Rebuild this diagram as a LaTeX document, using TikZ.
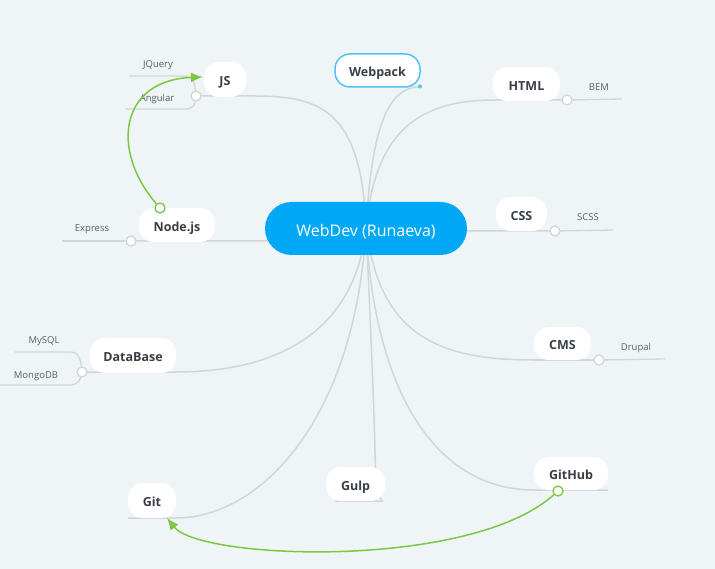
\documentclass[tikz,border=0pt]{standalone}
\usepackage{fontspec}
\setmainfont{Open Sans}
\usetikzlibrary{arrows.meta,backgrounds}
\definecolor{bg}{HTML}{EFF4F7}
\definecolor{branchc}{HTML}{D2D6DA}
\definecolor{txt}{HTML}{3A3F47}
\definecolor{subtxt}{HTML}{5A5F66}
\definecolor{mainblue}{HTML}{00A8F5}
\definecolor{selblue}{HTML}{50C4F8}
\definecolor{rel}{HTML}{7DC842}
\begin{document}
\begin{tikzpicture}[x=1pt,y=-1pt,
 topic/.style={fill=white, rounded corners=15pt, minimum height=34pt, inner sep=0pt, text height=12.5pt, text depth=0pt, font=\fontsize{12.5}{14}\selectfont\bfseries, text=txt},
 central/.style={fill=mainblue, rounded corners=26.5pt, minimum width=202pt, minimum height=53pt, inner sep=0pt, text height=17pt, text depth=0pt, text=white, font=\fontsize{16}{19}\selectfont},
 sub/.style={font=\fontsize{9.5}{11}\selectfont, text=subtxt, inner sep=0pt, text height=7pt, text depth=0pt},
 dot/.style={circle, draw=branchc, fill=white, line width=1.3pt, minimum size=10pt, inner sep=0pt},
 gdot/.style={dot, draw=rel},
 branch/.style={draw=branchc, line width=1.5pt},
 subbranch/.style={draw=branchc, line width=1.3pt},
 relation/.style={draw=rel, line width=1.5pt, -{Latex[length=12pt,width=10pt]}},
]
\useasboundingbox (0,0) rectangle (715,569);

% topics
\node[central] (c) at (366,228.5) {WebDev (Runaeva)};
\node[topic, minimum width=42pt, minimum height=35pt] (js) at (225,79.5) {JS};
\node[topic, minimum width=85pt, minimum height=33pt, draw=selblue, line width=1.5pt] (webpack) at (377.5,70.5) {Webpack};
\node[topic, minimum width=67pt] (html) at (526.5,84) {HTML};
\node[topic, minimum width=51pt] (css) at (521.5,214) {CSS};
\node[topic, minimum width=57pt, minimum height=33pt] (cms) at (562.5,343.5) {CMS};
\node[topic, minimum width=74pt, minimum height=33pt] (github) at (571,473.5) {GitHub};
\node[topic, minimum width=59pt] (gulp) at (355.5,484) {Gulp};
\node[topic, minimum width=48pt, minimum height=35pt] (git) at (152,500.5) {Git};
\node[topic, minimum width=86pt, minimum height=35pt] (db) at (133,355.5) {DataBase};
\node[topic, minimum width=76pt] (nodejs) at (177,225) {Node.js};

% subtopic labels
\node[sub] (jquery) at (158,64.5) {JQuery};
\node[sub] (angular) at (157,98.5) {Angular};
\node[sub] (bem) at (599,87.5) {BEM};
\node[sub] (scss) at (588,217.5) {SCSS};
\node[sub] (drupal) at (636,347.5) {Drupal};
\node[sub] (express) at (92,228.5) {Express};
\node[sub] (mysql) at (44,340.5) {MySQL};
\node[sub] (mongodb) at (36,374.5) {MongoDB};

% connection dots
\node[dot] (jsdot) at (196,96) {};
\node[dot] (htmldot) at (567,100) {};
\node[dot] (cssdot) at (555,231) {};
\node[dot] (cmsdot) at (599,360) {};
\node[dot] (dbdot) at (82,372) {};
\node[dot] (nodedot) at (131,241) {};
\node[circle, fill=selblue, minimum size=4pt, inner sep=0pt] (wpdot) at (420,86.5) {};

% free ends
\coordinate (jqend) at (129,76);
\coordinate (angend) at (125,109);
\coordinate (bemend) at (622,99);
\coordinate (scssend) at (613,230);
\coordinate (drupend) at (665,359);
\coordinate (expend) at (62,241);
\coordinate (myend) at (15,352);
\coordinate (mongoend) at (0,385);
\coordinate (ghend) at (608,490);
\coordinate (gulpend) at (335,501);
\coordinate (gitend) at (128,518);
\coordinate (gittip) at (167,518);
\coordinate (jstip) at (203,77);

\begin{pgfonlayer}{background}
\fill[bg] (0,0) rectangle (715,569);
% main branches
\draw[branch] (c.center) .. controls (362,110) and (320,96) .. (255,96) -- (jsdot.center);
\draw[branch] (c.center) .. controls (372,120) and (390,88) .. (wpdot.center);
\draw[branch] (c.center) .. controls (375,130) and (420,100) .. (495,100) -- (htmldot.center);
\draw[branch] (c.center) .. controls (430,231) .. (496,231) -- (cssdot.center);
\draw[branch] (c.center) .. controls (380,330) and (430,360) .. (534,360) -- (cmsdot.center);
\draw[branch] (c.center) .. controls (375,400) and (440,490) .. (534,490) -- (ghend);
\draw[branch] (c.center) .. controls (372,350) and (375,440) .. (376,490) -- (382,501) -- (gulpend);
\draw[branch] (c.center) .. controls (355,420) and (260,518) .. (176,518) -- (gitend);
\draw[branch] (c.center) .. controls (355,330) and (280,372) .. (176,372) -- (dbdot.center);
\draw[branch] (c.center) .. controls (300,241) .. (215,241) -- (nodedot.center);
% sub branches
\draw[subbranch] (jsdot.center) .. controls (195,80) and (192,76) .. (184,76) -- (jqend);
\draw[subbranch] (jsdot.center) .. controls (195,107) and (192,109) .. (184,109) -- (angend);
\draw[subbranch] (htmldot) -- (bemend);
\draw[subbranch] (cssdot) -- (scssend);
\draw[subbranch] (cmsdot) -- (drupend);
\draw[subbranch] (nodedot) -- (expend);
\draw[subbranch] (dbdot.center) .. controls (81,358) and (78,352) .. (70,352) -- (myend);
\draw[subbranch] (dbdot.center) .. controls (81,380) and (78,385) .. (70,385) -- (mongoend);
\end{pgfonlayer}

% relationship arrows
\node[gdot] (nodegdot) at (160,208) {};
\node[gdot] (ghdot) at (558,491) {};
\draw[relation] (nodegdot) .. controls (110,150) and (120,80) .. (jstip);
\draw[relation] (ghdot) .. controls (470,570) and (200,560) .. (gittip);
\end{tikzpicture}
\end{document}
